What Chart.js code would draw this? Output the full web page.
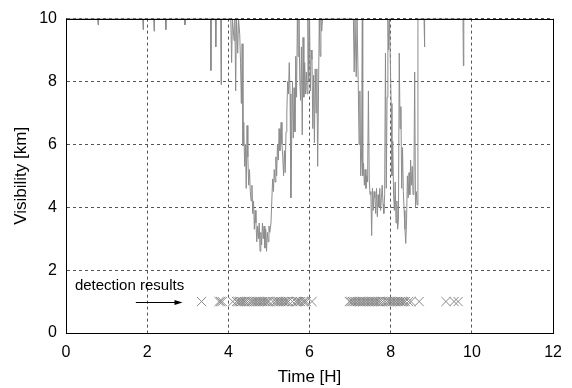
<!DOCTYPE html>
<html>
<head>
<meta charset="utf-8">
<script src="https://cdn.jsdelivr.net/npm/chart.js@4.4.1/dist/chart.umd.min.js"></script>
<style>
html,body{margin:0;padding:0;background:#fff;}
#wrap{width:572px;height:388px;position:relative;}
</style>
</head>
<body>
<div id="wrap"><canvas id="c" width="572" height="388"></canvas></div>
<script>
// Visibility series (time in hours, visibility in km; values at 10 = clipped top)
const visTime = [
  0, 0.78, 0.79, 0.8, 1.89, 1.9, 1.91, 2.16, 2.17, 2.18, 2.45, 2.46, 2.47, 2.92, 2.93, 2.94,
  3.56, 3.57, 3.58, 3.68, 3.69, 3.7, 3.81, 3.82, 3.83, 4.06, 4.08, 4.1, 4.14, 4.16, 4.18, 4.2,
  4.23, 4.25, 4.28, 4.3, 4.32, 4.34,
  4.36, 4.38, 4.4, 4.42, 4.44, 4.46, 4.48, 4.5, 4.52, 4.54, 4.56, 4.58, 4.6, 4.62, 4.64, 4.66,
  4.68, 4.7, 4.72, 4.74, 4.76, 4.78, 4.8, 4.82, 4.84, 4.86, 4.88, 4.9, 4.92, 4.94, 4.96, 4.98,
  5.0, 5.02, 5.05, 5.07, 5.09, 5.11, 5.13, 5.15, 5.17, 5.19, 5.21, 5.23, 5.25, 5.27, 5.3, 5.32,
  5.34, 5.36, 5.38, 5.4, 5.42, 5.44, 5.46, 5.48, 5.5, 5.52, 5.54, 5.56, 5.58, 5.6, 5.62, 5.64,
  5.66, 5.68, 5.7, 5.72, 5.74, 5.76, 5.78, 5.8, 5.82, 5.84, 5.86, 5.88, 5.9, 5.92, 5.94, 5.96,
  5.98, 6.0, 6.02, 6.04, 6.06, 6.08, 6.1, 6.12, 6.14, 6.16, 6.18, 6.2, 6.22, 6.24, 6.26, 6.28,
  6.3, 6.32,
  7.08, 7.1, 7.12, 7.15, 7.17, 7.2, 7.22, 7.24, 7.26, 7.28, 7.3, 7.31, 7.33, 7.35, 7.37, 7.39,
  7.41, 7.43, 7.45, 7.47, 7.49, 7.51, 7.53, 7.55, 7.57, 7.59, 7.61, 7.63, 7.65, 7.67, 7.69, 7.71,
  7.73, 7.75, 7.77, 7.79, 7.81, 7.83, 7.85, 7.87, 7.89, 7.91, 7.93, 7.95, 7.97, 7.99, 8.01, 8.03,
  8.05, 8.07, 8.09, 8.11, 8.13, 8.15, 8.17, 8.19, 8.21, 8.23, 8.25, 8.27, 8.29, 8.31, 8.33, 8.35,
  8.37, 8.39, 8.41, 8.43, 8.45, 8.47, 8.49, 8.51, 8.53, 8.55, 8.57, 8.59, 8.61, 8.63, 8.65, 8.67,
  8.82, 8.83, 8.84, 9.78, 9.79, 9.8, 10
];
const visValue = [
  10, 10, 9.8, 10, 10, 9.65, 10, 10, 9.6, 10, 10, 9.65, 10, 10, 9.8, 10,
  10, 8.35, 10, 10, 9.1, 10, 10, 7.9, 10, 10, 8.6, 10, 9.3, 10, 7.7, 10,
  8.9, 10, 9.5, 8.6, 7.3, 9.2,
  5.95, 6.7, 5.3, 6.0, 4.6, 6.6, 5.6, 4.7, 5.2, 4.5, 4.2, 4.7, 3.8, 4.2, 3.3, 3.9,
  3.5, 2.9, 3.4, 3.0, 3.5, 2.6, 3.2, 2.8, 3.5, 3.0, 3.4, 2.7, 3.3, 2.6, 3.2, 2.9,
  3.4, 3.2, 3.5, 4.2, 4.9, 4.5, 5.2, 4.8, 5.6, 5.0, 6.0, 5.5, 6.5, 5.8, 6.7, 6.0,
  5.6, 5.0, 5.8, 5.1, 6.4, 7.0, 8.0, 7.6, 8.6, 7.6, 4.3, 6.2, 8.0, 6.2, 7.8, 6.4,
  8.8, 7.5, 10, 8.8, 10, 8.0, 7.4, 9.1, 6.3, 9.4, 7.5, 8.6, 7.6, 8.3, 7.6, 10,
  8.0, 10, 7.7, 9.0, 8.7, 6.5, 8.2, 6.05, 8.4, 7.0, 8.4, 5.3, 7.6, 10, 8.8, 10,
  9.6, 10,
  10, 8.3, 10, 8.15, 10, 7.9, 6.0, 7.7, 5.0, 5.6, 10, 5.0, 5.4, 4.7, 5.2, 4.6,
  5.0, 4.8, 7.7, 4.9, 4.4, 4.5, 3.1, 4.6, 3.9, 4.5, 4.3, 3.8, 4.6, 3.7, 4.4, 4.0,
  4.6, 3.9, 4.3, 4.7, 4.1, 3.8, 4.4, 8.9, 4.6, 7.5, 10, 9.0, 10, 8.6, 7.3, 5.0,
  6.1, 4.4, 3.9, 4.8, 3.5, 4.2, 3.3, 3.6, 8.9, 6.5, 7.2, 4.6, 5.9, 4.5, 3.9, 3.3,
  2.85, 3.6, 5.0, 4.3, 5.1, 4.4, 5.5, 4.7, 5.3, 4.4, 4.7, 8.3, 4.0, 4.5, 4.07, 10,
  10, 9.1, 10, 10, 8.5, 10, 10
];
// Detection results (times in hours), all plotted at the same level
const detectTimes = [
  3.34, 3.77, 3.81, 3.85, 4.11, 4.2, 4.24, 4.28, 4.32, 4.36, 4.4, 4.44, 4.5, 4.56, 4.6, 4.64,
  4.68, 4.72, 4.76, 4.8, 4.84, 4.88, 4.92, 4.96, 5.0, 5.1, 5.16, 5.2, 5.24, 5.28, 5.32, 5.36,
  5.4, 5.44, 5.48, 5.58, 5.66, 5.7, 5.74, 5.78, 5.84, 5.88, 5.92, 6.06,
  6.98, 7.02, 7.06, 7.1, 7.14, 7.18, 7.22, 7.26, 7.3, 7.34, 7.38, 7.42, 7.46, 7.5, 7.54, 7.58,
  7.62, 7.66, 7.7, 7.74, 7.8, 7.86, 7.92, 7.96, 8.0, 8.04, 8.08, 8.12, 8.16, 8.2, 8.24, 8.28,
  8.32, 8.36, 8.44, 8.5, 8.7,
  9.36, 9.56, 9.66
];
const detectLevel = 1;
const xTicks = [0, 2, 4, 6, 8, 10, 12];
const yTicks = [0, 2, 4, 6, 8, 10];
const annotationText = 'detection results';
const arrowFrom = 1.72, arrowTo = 2.87;   // arrow along the detection level
const labelAt = { x: 0.22, y: 1.38 };

const FONT = 'Liberation Sans, Arial, Helvetica, sans-serif';

const lineData = visTime.map((t, i) => ({ x: t, y: visValue[i] }));
const detData = detectTimes.map(t => ({ x: t, y: detectLevel }));

const framePlugin = {
  id: 'frame',
  afterDatasetsDraw(chart) {
    const { ctx, chartArea: a, scales } = chart;
    ctx.save();
    const xs = scales.x, ys = scales.y;
    ctx.fillStyle = '#000';
    ctx.font = '15px ' + FONT;
    ctx.textBaseline = 'alphabetic';
    ctx.textAlign = 'left';
    ctx.fillText(annotationText, xs.getPixelForValue(labelAt.x), ys.getPixelForValue(labelAt.y));
    const y0 = Math.round(ys.getPixelForValue(detectLevel)) + 0.5;
    const x0 = xs.getPixelForValue(arrowFrom), x1 = xs.getPixelForValue(arrowTo);
    ctx.strokeStyle = '#000';
    ctx.lineWidth = 1;
    ctx.beginPath();
    ctx.moveTo(x0, y0); ctx.lineTo(x1 - 6, y0); ctx.stroke();
    ctx.beginPath();
    ctx.moveTo(x1, y0); ctx.lineTo(x1 - 8, y0 - 2.5); ctx.lineTo(x1 - 8, y0 + 2.5); ctx.closePath();
    ctx.fillStyle = '#000'; ctx.fill();
    ctx.strokeStyle = '#000';
    ctx.lineWidth = 1;
    ctx.strokeRect(Math.round(a.left) + 0.5, Math.round(a.top) + 0.5,
      Math.round(a.right - a.left), Math.round(a.bottom - a.top));
    ctx.restore();
  }
};

new Chart(document.getElementById('c'), {
  type: 'scatter',
  data: {
    datasets: [
      {
        type: 'line',
        data: lineData,
        borderColor: '#8c8c8c',
        borderWidth: 1,
        pointRadius: 0,
        tension: 0,
        fill: false,
        order: 2
      },
      {
        data: detData,
        showLine: false,
        pointStyle: 'crossRot',
        pointRadius: 6.5,
        borderColor: '#888',
        borderWidth: 1,
        backgroundColor: '#888',
        order: 1
      }
    ]
  },
  options: {
    responsive: false,
    animation: false,
    events: [],
    layout: { padding: { left: 0, right: 18, top: 14, bottom: 0 } },
    plugins: { legend: { display: false }, tooltip: { enabled: false } },
    scales: {
      x: {
        type: 'linear', min: 0, max: 12,
        afterBuildTicks: s => { s.ticks = xTicks.map(v => ({ value: v })); },
        afterFit: s => { s.height = 55; },
        ticks: { color: '#000', font: { family: FONT, size: 16 }, padding: 10, maxRotation: 0 },
        grid: { color: '#555', lineWidth: 1, drawTicks: false },
        border: { display: true, color: '#000', dash: [3, 3] },
        title: { display: true, text: 'Time [H]', color: '#000', font: { family: FONT, size: 17 }, padding: { top: 2, bottom: 0 } }
      },
      y: {
        type: 'linear', min: 0, max: 10,
        afterBuildTicks: s => { s.ticks = yTicks.map(v => ({ value: v })); },
        afterFit: s => { s.width = 66; },
        ticks: { color: '#000', font: { family: FONT, size: 16 }, padding: 9 },
        grid: { color: '#555', lineWidth: 1, drawTicks: false },
        border: { display: true, color: '#000', dash: [3, 3] },
        title: { display: true, text: 'Visibility [km]', color: '#000', font: { family: FONT, size: 17 }, padding: { top: 11, bottom: 0 } }
      }
    }
  },
  plugins: [framePlugin]
});
</script>
</body>
</html>
